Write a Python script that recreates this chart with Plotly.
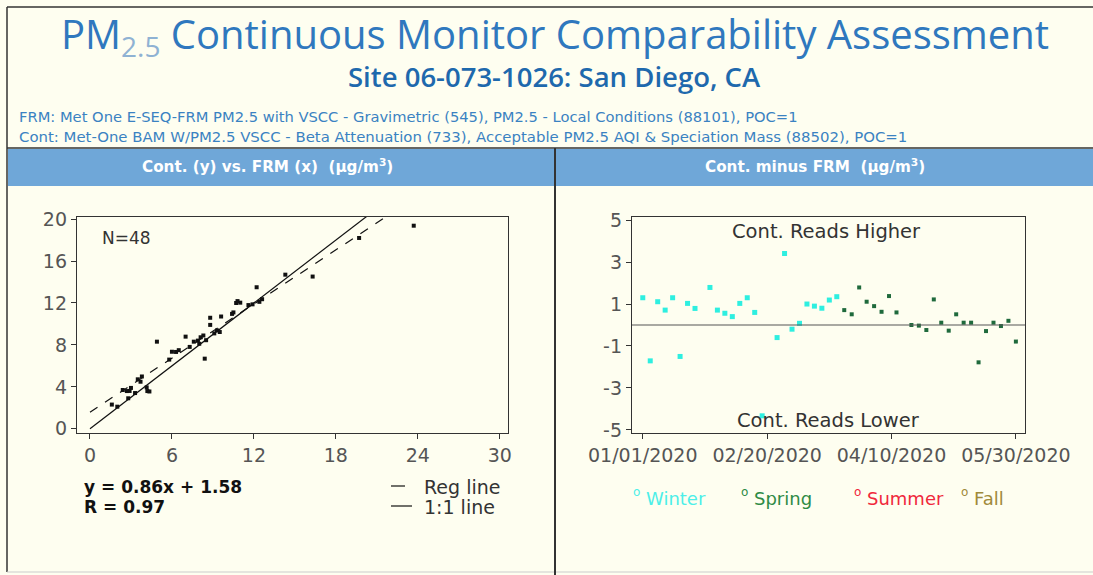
import plotly.graph_objects as go

# ---- sampling dates (every third day, Jan-May 2020) ----
dates = [
    "2020-01-01", "2020-01-04", "2020-01-07", "2020-01-10", "2020-01-13", "2020-01-16",
    "2020-01-19", "2020-01-22", "2020-01-28", "2020-01-31", "2020-02-03", "2020-02-06",
    "2020-02-09", "2020-02-12", "2020-02-15", "2020-02-18", "2020-02-24", "2020-02-27",
    "2020-03-01", "2020-03-04", "2020-03-07", "2020-03-10", "2020-03-13", "2020-03-16",
    "2020-03-19", "2020-03-22", "2020-03-25", "2020-03-28", "2020-03-31", "2020-04-03",
    "2020-04-06", "2020-04-09", "2020-04-12", "2020-04-18", "2020-04-21", "2020-04-24",
    "2020-04-27", "2020-04-30", "2020-05-03", "2020-05-06", "2020-05-09", "2020-05-12",
    "2020-05-15", "2020-05-18", "2020-05-21", "2020-05-24", "2020-05-27", "2020-05-30",
]

# FRM (gravimetric) daily concentrations, ug/m3
frm = [
    10.70, 8.40, 8.80, 1.60, 12.20, 19.70, 11.00, 3.70, 8.80, 2.90, 10.40, 14.30,
    6.30, 2.40, 10.50, 23.70, 4.20, 4.90, 4.15, 9.30, 6.50, 2.70, 5.80, 3.80,
    6.00, 7.60, 7.90, 7.00, 9.60, 3.00, 8.10, 10.80, 8.30, 9.10, 11.90, 12.60,
    3.50, 3.30, 9.50, 7.30, 2.00, 8.00, 16.30, 12.40, 2.80, 8.50, 11.60, 4.35,
]

# Continuous (BAM) daily concentrations, ug/m3
cont = [
    12.00, 6.69, 9.91, 2.31, 13.50, 18.20, 12.03, 4.49, 10.59, 3.61, 10.96, 14.70,
    7.33, 3.70, 11.10, 19.37, 3.60, 8.31, 3.95, 9.38, 7.50, 3.60, 6.60, 4.99,
    7.35, 8.31, 8.41, 8.79, 10.71, 3.90, 8.73, 12.18, 8.90, 9.10, 11.87, 12.36,
    4.72, 3.41, 9.23, 7.81, 2.11, 8.11, 14.52, 12.11, 2.91, 8.45, 11.80, 3.56,
]

# regression summary
SLOPE = 0.86
INTERCEPT = 1.58
R_VALUE = 0.97
SPRING_START = "2020-03-20"

x_ticks = [0, 6, 12, 18, 24, 30]
y_ticks = [0, 4, 8, 12, 16, 20]
diff_ticks = [-5, -3, -1, 1, 3, 5]
diff_labels = ["-5", "-3", "-1", "1", "3", "5"]
date_ticks = ["2020-01-01", "2020-02-20", "2020-04-10", "2020-05-30"]
date_labels = ["01/01/2020", "02/20/2020", "04/10/2020", "05/30/2020"]
line_span = [0, 30]

W, H = 1093, 575
BG = "#FEFEF0"
FONT = "DejaVu Sans"


def px(x):
    return x / W


def py(y):
    return 1 - y / H


diff = [round(c - f, 2) for c, f in zip(cont, frm)]
winter_d = [d for d in dates if d < SPRING_START]
winter_v = [v for d, v in zip(dates, diff) if d < SPRING_START]
spring_d = [d for d in dates if d >= SPRING_START]
spring_v = [v for d, v in zip(dates, diff) if d >= SPRING_START]

fig = go.Figure()

# ---- left panel: Cont vs FRM ----
fig.add_trace(go.Scatter(
    x=frm, y=cont, mode="markers", xaxis="x", yaxis="y",
    marker=dict(symbol="square", size=4, color="#111111"), showlegend=False))
fig.add_trace(go.Scatter(
    x=line_span, y=line_span, mode="lines", xaxis="x", yaxis="y",
    line=dict(color="#111111", width=1.2), showlegend=False))
fig.add_trace(go.Scatter(
    x=line_span, y=[SLOPE * v + INTERCEPT for v in line_span], mode="lines",
    xaxis="x", yaxis="y", line=dict(color="#111111", width=1.2, dash="dash"),
    showlegend=False))

# ---- right panel: Cont minus FRM over time ----
fig.add_trace(go.Scatter(
    x=winter_d, y=winter_v, mode="markers", xaxis="x2", yaxis="y2",
    marker=dict(symbol="square", size=5, color="#2EEFE0"), showlegend=False))
fig.add_trace(go.Scatter(
    x=spring_d, y=spring_v, mode="markers", xaxis="x2", yaxis="y2",
    marker=dict(symbol="square", size=4, color="#1F6A3C"), showlegend=False))

axis_common = dict(
    showline=True, mirror=True, linecolor="#333333", linewidth=1.3,
    ticks="outside", ticklen=5, tickcolor="#333333", showgrid=False,
    zeroline=False, automargin=False,
    tickfont=dict(family=FONT, size=19, color="#555555"),
)

y_dom = [py(433), py(217)]

fig.update_layout(
    width=W, height=H, margin=dict(l=0, r=0, t=0, b=0, pad=0),
    paper_bgcolor=BG, plot_bgcolor=BG, showlegend=False,
    xaxis=dict(domain=[px(77), px(508)], range=[-0.95, 30.6],
               tickvals=x_ticks, anchor="y", **axis_common),
    yaxis=dict(domain=y_dom, range=[-0.4, 20.2], tickvals=y_ticks,
               anchor="x", **axis_common),
    xaxis2=dict(domain=[px(632), px(1025)], type="date",
                range=["2019-12-27 16:00", "2020-06-02 16:00"],
                tickvals=date_ticks, ticktext=date_labels, anchor="y2",
                **axis_common),
    yaxis2=dict(domain=y_dom, range=[-5.15, 5.15], tickvals=diff_ticks,
                ticktext=diff_labels, anchor="x2", **axis_common),
)

HEADER = "#6FA7D8"
shapes = [
    # outer frame
    dict(type="line", xref="paper", yref="paper", x0=px(7), x1=px(1093), y0=py(7), y1=py(7),
         line=dict(color="#333333", width=1.5)),
    dict(type="line", xref="paper", yref="paper", x0=px(7), x1=px(7), y0=py(7), y1=py(572),
         line=dict(color="#333333", width=1.5)),
    dict(type="line", xref="paper", yref="paper", x0=px(7), x1=px(1093), y0=py(572), y1=py(572),
         line=dict(color="#CCCCCC", width=1)),
    # header bars
    dict(type="rect", xref="paper", yref="paper", x0=px(8), x1=px(554), y0=py(186), y1=py(149),
         fillcolor=HEADER, line=dict(width=0)),
    dict(type="rect", xref="paper", yref="paper", x0=px(556), x1=px(1093), y0=py(186), y1=py(149),
         fillcolor=HEADER, line=dict(width=0)),
    dict(type="line", xref="paper", yref="paper", x0=px(7), x1=px(1093), y0=py(148), y1=py(148),
         line=dict(color="#333333", width=1.5)),
    # panel divider
    dict(type="line", xref="paper", yref="paper", x0=px(555), x1=px(555), y0=py(148), y1=py(575),
         line=dict(color="#333333", width=2)),
    # zero reference on the difference panel
    dict(type="line", xref="x2 domain", yref="y2", x0=0, x1=1, y0=0, y1=0,
         line=dict(color="#555555", width=1)),
    # legend keys for the fitted lines
    dict(type="line", xref="paper", yref="paper", x0=px(391), x1=px(405), y0=py(486), y1=py(486),
         line=dict(color="#111111", width=1.2)),
    dict(type="line", xref="paper", yref="paper", x0=px(391), x1=px(412), y0=py(506), y1=py(506),
         line=dict(color="#111111", width=1.2)),
]
fig.update_layout(shapes=shapes)


def note(x, y, text, size, color, xanchor="center", family=FONT, weight=None):
    f = dict(family=family, size=size, color=color)
    if weight:
        f["weight"] = weight
    fig.add_annotation(x=px(x), y=py(y), xref="paper", yref="paper", text=text,
                       showarrow=False, xanchor=xanchor, yanchor="middle", font=f)


# titles
note(555, 36, 'PM<span style="color:#8FB2D3"><sub>2.5</sub></span> Continuous Monitor Comparability Assessment',
     40, "#2F78BE", family="Open Sans")
note(554, 77, "Site 06-073-1026: San Diego, CA", 27.5, "#1E69AD", family="Open Sans", weight=600)
note(17, 116, "FRM: Met One E-SEQ-FRM PM2.5 with VSCC - Gravimetric (545), PM2.5 - Local Conditions (88101), POC=1",
     14.7, "#3A82C2", xanchor="left")
note(17, 137, "Cont: Met-One BAM W/PM2.5 VSCC - Beta Attenuation (733), Acceptable PM2.5 AQI & Speciation Mass (88502), POC=1",
     14.9, "#3A82C2", xanchor="left")

# panel headers
note(267, 166, "Cont. (y) vs. FRM (x)  (µg/m<sup>3</sup>)", 15.2, "#FFFFFF", weight="bold")
note(815, 166, "Cont. minus FRM  (µg/m<sup>3</sup>)", 15.2, "#FFFFFF", weight="bold")

# left panel notes
note(100, 238, f"N={len(frm)}", 17, "#333333", xanchor="left")
note(82, 487, f"y = {SLOPE:.2f}x + {INTERCEPT:.2f}", 17, "#111111", xanchor="left", weight="bold")
note(82, 507, f"R = {R_VALUE:.2f}", 17, "#111111", xanchor="left", weight="bold")
note(422, 487, "Reg line", 19, "#333333", xanchor="left")
note(422, 507, "1:1 line", 19, "#333333", xanchor="left")

# right panel notes
note(826, 231, "Cont. Reads Higher", 19.5, "#333333")
note(828, 420, "Cont. Reads Lower", 19.5, "#333333")

# season key
seasons = [("Winter", "#4DEFE8", 636), ("Spring", "#2E8B45", 744), ("Summer", "#F0283C", 857), ("Fall", "#A08A3A", 964)]
for name, color, x0 in seasons:
    note(x0, 492, "o", 12, color)
    note(x0 + 8, 498, name, 18, color, xanchor="left")

fig.write_html("out.html", post_script="document.body.style.margin='0';")
